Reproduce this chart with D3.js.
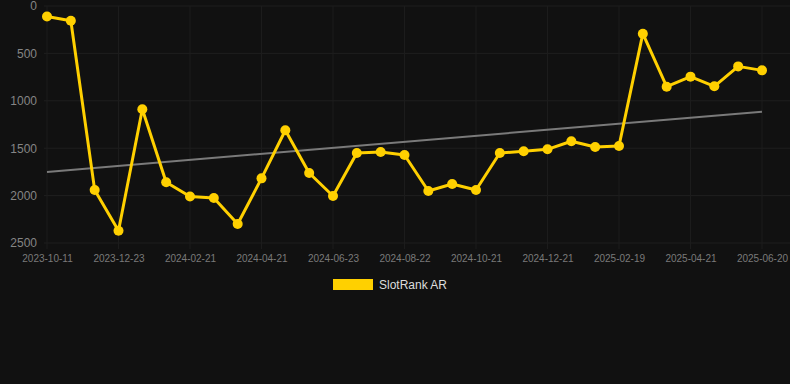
<!DOCTYPE html>
<html><head><meta charset="utf-8">
<script src="https://cdn.jsdelivr.net/npm/d3@7"></script>
<style>
html,body{margin:0;padding:0;background:#111111;}
svg{display:block;font-family:"Helvetica","Liberation Sans",Arial,sans-serif;}
</style></head>
<body><svg id="c" width="790" height="384"></svg>
<script>
const dates = ["2023-10-11","2023-11-04","2023-11-28","2023-12-23","2024-01-12","2024-02-01","2024-02-21","2024-03-12","2024-04-01","2024-04-21","2024-05-12","2024-06-02","2024-06-23","2024-07-13","2024-08-02","2024-08-22","2024-09-11","2024-10-01","2024-10-21","2024-11-10","2024-12-01","2024-12-21","2025-01-10","2025-01-30","2025-02-19","2025-03-11","2025-04-01","2025-04-21","2025-05-11","2025-05-31","2025-06-20"];
const rankValues = [110,155,1940,2370,1090,1860,2010,2025,2300,1818,1311,1762,2004,1551,1540,1572,1951,1878,1941,1551,1533,1512,1427,1487,1477,292,851,745,847,637,679];
const trendValues = [1751,1115];
const yTicks = [0,500,1000,1500,2000,2500];
const seriesName = "SlotRank AR";

const svg = d3.select("#c");
const x = d3.scalePoint().domain(dates).range([47,762]);
const y = d3.scaleLinear().domain([0,2500]).range([6,243]);
const gridColor = "#1f1f1f";

// horizontal grid
svg.append("g").selectAll("line").data(yTicks).join("line")
  .attr("x1",44).attr("x2",790).attr("y1",d=>y(d)).attr("y2",d=>y(d))
  .attr("stroke",gridColor).attr("stroke-width",1);
// vertical grid
const xTickDates = dates.filter((d,i)=>i%3===0);
svg.append("g").selectAll("line").data(xTickDates).join("line")
  .attr("x1",d=>x(d)).attr("x2",d=>x(d)).attr("y1",6).attr("y2",249)
  .attr("stroke","#1c1c1c").attr("stroke-width",1);

// y axis labels
const yAxis = d3.axisLeft(y).tickValues(yTicks).tickSize(0).tickPadding(0).tickFormat(d3.format("d"));
const gy = svg.append("g").attr("transform","translate(37,0)").call(yAxis);
gy.select(".domain").remove();
gy.selectAll("text").attr("fill","#858585").attr("font-size","12px");

// x axis labels
const xAxis = d3.axisBottom(x).tickValues(xTickDates).tickSize(0).tickPadding(0);
const gx = svg.append("g").attr("transform","translate(0,255)").call(xAxis);
gx.select(".domain").remove();
gx.selectAll("text").attr("fill","#7a7a7a").attr("font-size","10px");

// trend line
svg.append("line")
  .attr("x1",x(dates[0])).attr("y1",y(trendValues[0]))
  .attr("x2",x(dates[dates.length-1])).attr("y2",y(trendValues[1]))
  .attr("stroke","#7a7a7a").attr("stroke-width",2);

// series line
const line = d3.line().x((d,i)=>x(dates[i])).y(d=>y(d));
svg.append("path").datum(rankValues).attr("d",line)
  .attr("fill","none").attr("stroke","#ffd000").attr("stroke-width",3).attr("stroke-linejoin","round");
svg.append("g").selectAll("circle").data(rankValues).join("circle")
  .attr("cx",(d,i)=>x(dates[i])).attr("cy",d=>y(d)).attr("r",5)
  .attr("fill","#ffd000");

// legend
svg.append("rect").attr("x",333).attr("y",279).attr("width",40).attr("height",11).attr("fill","#ffd000");
svg.append("text").attr("x",379).attr("y",289).attr("fill","#dddddd").attr("font-size","12px").text(seriesName);
</script></body></html>
